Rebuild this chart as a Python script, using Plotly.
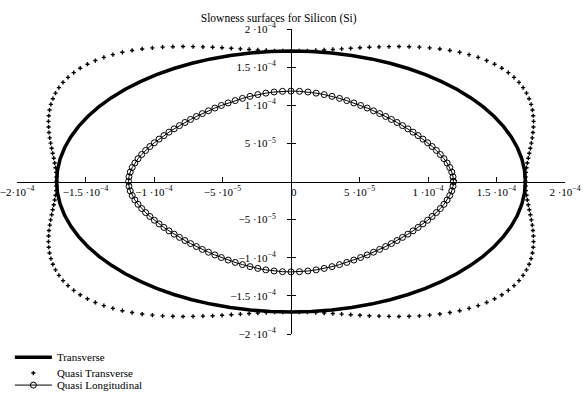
import plotly.graph_objects as go

# Slowness values in units of 1e-4 s/m
# Transverse (solid line)
t_x = [1.7109, 1.7044, 1.6849, 1.6526, 1.6077, 1.5506, 1.4817, 1.4015, 1.3106, 1.2098, 1.0997, 0.9813, 0.8555, 0.7231, 0.5852, 0.4428, 0.2971, 0.1491,
       0, -0.1491, -0.2971, -0.4428, -0.5852, -0.7231, -0.8555, -0.9813, -1.0997, -1.2098, -1.3106, -1.4015, -1.4817, -1.5506, -1.6077, -1.6526, -1.6849, -1.7044,
       -1.7109, -1.7044, -1.6849, -1.6526, -1.6077, -1.5506, -1.4817, -1.4015, -1.3106, -1.2098, -1.0997, -0.9813, -0.8555, -0.7231, -0.5852, -0.4428, -0.2971, -0.1491,
       0, 0.1491, 0.2971, 0.4428, 0.5852, 0.7231, 0.8555, 0.9813, 1.0997, 1.2098, 1.3106, 1.4015, 1.4817, 1.5506, 1.6077, 1.6526, 1.6849, 1.7044,
       1.7109]
t_y = [0, 0.1491, 0.2971, 0.4428, 0.5852, 0.7231, 0.8555, 0.9813, 1.0997, 1.2098, 1.3106, 1.4015, 1.4817, 1.5506, 1.6077, 1.6526, 1.6849, 1.7044,
       1.7109, 1.7044, 1.6849, 1.6526, 1.6077, 1.5506, 1.4817, 1.4015, 1.3106, 1.2098, 1.0997, 0.9813, 0.8555, 0.7231, 0.5852, 0.4428, 0.2971, 0.1491,
       0, -0.1491, -0.2971, -0.4428, -0.5852, -0.7231, -0.8555, -0.9813, -1.0997, -1.2098, -1.3106, -1.4015, -1.4817, -1.5506, -1.6077, -1.6526, -1.6849, -1.7044,
       -1.7109, -1.7044, -1.6849, -1.6526, -1.6077, -1.5506, -1.4817, -1.4015, -1.3106, -1.2098, -1.0997, -0.9813, -0.8555, -0.7231, -0.5852, -0.4428, -0.2971, -0.1491,
       0]

# Quasi Transverse (dots)
qt_x = [1.7109, 1.7119, 1.7146, 1.7191, 1.7250, 1.7319, 1.7394, 1.7471, 1.7545, 1.7611, 1.7662, 1.7695, 1.7704, 1.7681, 1.7625, 1.7527, 1.7383, 1.7189, 1.6943, 1.6640, 1.6279, 1.5861, 1.5386,
        1.4858, 1.4281, 1.3660, 1.3000, 1.2309, 1.1594, 1.0862, 1.0119, 0.9371, 0.8624, 0.7882, 0.7149, 0.6429, 0.5722, 0.5031, 0.4356, 0.3697, 0.3054, 0.2424, 0.1807, 0.1199, 0.0598,
        0, -0.0598, -0.1199, -0.1807, -0.2424, -0.3054, -0.3697, -0.4356, -0.5031, -0.5722, -0.6429, -0.7149, -0.7882, -0.8624, -0.9371, -1.0119, -1.0862, -1.1594, -1.2309, -1.3000, -1.3660, -1.4281, -1.4858,
        -1.5386, -1.5861, -1.6279, -1.6640, -1.6943, -1.7189, -1.7383, -1.7527, -1.7625, -1.7681, -1.7704, -1.7695, -1.7662, -1.7611, -1.7545, -1.7471, -1.7394, -1.7319, -1.7250, -1.7191, -1.7146, -1.7119,
        -1.7109, -1.7119, -1.7146, -1.7191, -1.7250, -1.7319, -1.7394, -1.7471, -1.7545, -1.7611, -1.7662, -1.7695, -1.7704, -1.7681, -1.7625, -1.7527, -1.7383, -1.7189, -1.6943, -1.6640, -1.6279, -1.5861, -1.5386,
        -1.4858, -1.4281, -1.3660, -1.3000, -1.2309, -1.1594, -1.0862, -1.0119, -0.9371, -0.8624, -0.7882, -0.7149, -0.6429, -0.5722, -0.5031, -0.4356, -0.3697, -0.3054, -0.2424, -0.1807, -0.1199, -0.0598,
        0, 0.0598, 0.1199, 0.1807, 0.2424, 0.3054, 0.3697, 0.4356, 0.5031, 0.5722, 0.6429, 0.7149, 0.7882, 0.8624, 0.9371, 1.0119, 1.0862, 1.1594, 1.2309, 1.3000, 1.3660, 1.4281, 1.4858,
        1.5386, 1.5861, 1.6279, 1.6640, 1.6943, 1.7189, 1.7383, 1.7527, 1.7625, 1.7681, 1.7704, 1.7695, 1.7662, 1.7611, 1.7545, 1.7471, 1.7394, 1.7319, 1.7250, 1.7191, 1.7146, 1.7119]
qt_y = [0, 0.0598, 0.1199, 0.1807, 0.2424, 0.3054, 0.3697, 0.4356, 0.5031, 0.5722, 0.6429, 0.7149, 0.7882, 0.8624, 0.9371, 1.0119, 1.0862, 1.1594, 1.2309, 1.3000, 1.3660, 1.4281, 1.4858,
        1.5386, 1.5861, 1.6279, 1.6640, 1.6943, 1.7189, 1.7383, 1.7527, 1.7625, 1.7681, 1.7704, 1.7695, 1.7662, 1.7611, 1.7545, 1.7471, 1.7394, 1.7319, 1.7250, 1.7191, 1.7146, 1.7119,
        1.7109, 1.7119, 1.7146, 1.7191, 1.7250, 1.7319, 1.7394, 1.7471, 1.7545, 1.7611, 1.7662, 1.7695, 1.7704, 1.7681, 1.7625, 1.7527, 1.7383, 1.7189, 1.6943, 1.6640, 1.6279, 1.5861, 1.5386,
        1.4858, 1.4281, 1.3660, 1.3000, 1.2309, 1.1594, 1.0862, 1.0119, 0.9371, 0.8624, 0.7882, 0.7149, 0.6429, 0.5722, 0.5031, 0.4356, 0.3697, 0.3054, 0.2424, 0.1807, 0.1199, 0.0598,
        0, -0.0598, -0.1199, -0.1807, -0.2424, -0.3054, -0.3697, -0.4356, -0.5031, -0.5722, -0.6429, -0.7149, -0.7882, -0.8624, -0.9371, -1.0119, -1.0862, -1.1594, -1.2309, -1.3000, -1.3660, -1.4281, -1.4858,
        -1.5386, -1.5861, -1.6279, -1.6640, -1.6943, -1.7189, -1.7383, -1.7527, -1.7625, -1.7681, -1.7704, -1.7695, -1.7662, -1.7611, -1.7545, -1.7471, -1.7394, -1.7319, -1.7250, -1.7191, -1.7146, -1.7119,
        -1.7109, -1.7119, -1.7146, -1.7191, -1.7250, -1.7319, -1.7394, -1.7471, -1.7545, -1.7611, -1.7662, -1.7695, -1.7704, -1.7681, -1.7625, -1.7527, -1.7383, -1.7189, -1.6943, -1.6640, -1.6279, -1.5861, -1.5386,
        -1.4858, -1.4281, -1.3660, -1.3000, -1.2309, -1.1594, -1.0862, -1.0119, -0.9371, -0.8624, -0.7882, -0.7149, -0.6429, -0.5722, -0.5031, -0.4356, -0.3697, -0.3054, -0.2424, -0.1807, -0.1199, -0.0598]

# Quasi Longitudinal (circles)
ql_x = [1.1858, 1.1827, 1.1736, 1.1590, 1.1397, 1.1165, 1.0901, 1.0612, 1.0301, 0.9973, 0.9631, 0.9275, 0.8908, 0.8530, 0.8141,
        0.7741, 0.7330, 0.6907, 0.6472, 0.6023, 0.5560, 0.5082, 0.4586, 0.4073, 0.3542, 0.2992, 0.2423, 0.1836, 0.1233, 0.0620,
        0, -0.0620, -0.1233, -0.1836, -0.2423, -0.2992, -0.3542, -0.4073, -0.4586, -0.5082, -0.5560, -0.6023, -0.6472, -0.6907, -0.7330,
        -0.7741, -0.8141, -0.8530, -0.8908, -0.9275, -0.9631, -0.9973, -1.0301, -1.0612, -1.0901, -1.1165, -1.1397, -1.1590, -1.1736, -1.1827,
        -1.1858, -1.1827, -1.1736, -1.1590, -1.1397, -1.1165, -1.0901, -1.0612, -1.0301, -0.9973, -0.9631, -0.9275, -0.8908, -0.8530, -0.8141,
        -0.7741, -0.7330, -0.6907, -0.6472, -0.6023, -0.5560, -0.5082, -0.4586, -0.4073, -0.3542, -0.2992, -0.2423, -0.1836, -0.1233, -0.0620,
        0, 0.0620, 0.1233, 0.1836, 0.2423, 0.2992, 0.3542, 0.4073, 0.4586, 0.5082, 0.5560, 0.6023, 0.6472, 0.6907, 0.7330,
        0.7741, 0.8141, 0.8530, 0.8908, 0.9275, 0.9631, 0.9973, 1.0301, 1.0612, 1.0901, 1.1165, 1.1397, 1.1590, 1.1736, 1.1827,
        1.1858]
ql_y = [0, 0.0620, 0.1233, 0.1836, 0.2423, 0.2992, 0.3542, 0.4073, 0.4586, 0.5082, 0.5560, 0.6023, 0.6472, 0.6907, 0.7330,
        0.7741, 0.8141, 0.8530, 0.8908, 0.9275, 0.9631, 0.9973, 1.0301, 1.0612, 1.0901, 1.1165, 1.1397, 1.1590, 1.1736, 1.1827,
        1.1858, 1.1827, 1.1736, 1.1590, 1.1397, 1.1165, 1.0901, 1.0612, 1.0301, 0.9973, 0.9631, 0.9275, 0.8908, 0.8530, 0.8141,
        0.7741, 0.7330, 0.6907, 0.6472, 0.6023, 0.5560, 0.5082, 0.4586, 0.4073, 0.3542, 0.2992, 0.2423, 0.1836, 0.1233, 0.0620,
        0, -0.0620, -0.1233, -0.1836, -0.2423, -0.2992, -0.3542, -0.4073, -0.4586, -0.5082, -0.5560, -0.6023, -0.6472, -0.6907, -0.7330,
        -0.7741, -0.8141, -0.8530, -0.8908, -0.9275, -0.9631, -0.9973, -1.0301, -1.0612, -1.0901, -1.1165, -1.1397, -1.1590, -1.1736, -1.1827,
        -1.1858, -1.1827, -1.1736, -1.1590, -1.1397, -1.1165, -1.0901, -1.0612, -1.0301, -0.9973, -0.9631, -0.9275, -0.8908, -0.8530, -0.8141,
        -0.7741, -0.7330, -0.6907, -0.6472, -0.6023, -0.5560, -0.5082, -0.4586, -0.4073, -0.3542, -0.2992, -0.2423, -0.1836, -0.1233, -0.0620,
        0]

# Tick values (units of 1e-4) and labels
x_tickvals = [-2, -1.5, -1, -0.5, 0, 0.5, 1, 1.5, 2]
x_ticktext = ["−2·10<sup>−4</sup>", "−1.5 ·10<sup>−4</sup>", "−1 ·10<sup>−4</sup>", "−5 ·10<sup>−5</sup>",
              "\u00a0\u00a00", "5 ·10<sup>−5</sup>", "1 ·10<sup>−4</sup>", "1.5 ·10<sup>−4</sup>", "2 ·10<sup>−4</sup>"]
y_tickvals = [-2, -1.5, -1, -0.5, 0.5, 1, 1.5, 2]
y_ticktext = ["−2 ·10<sup>−4</sup>", "−1.5 ·10<sup>−4</sup>", "−1 ·10<sup>−4</sup>", "−5 ·10<sup>−5</sup>",
              "5 ·10<sup>−5</sup>", "1 ·10<sup>−4</sup>", "1.5 ·10<sup>−4</sup>", "2 ·10<sup>−4</sup>"]

FONT = "Liberation Serif"

fig = go.Figure()
fig.add_trace(go.Scatter(x=t_x, y=t_y, mode="lines", name="Transverse",
                         line=dict(color="black", width=3.5), legend="legend"))
fig.add_trace(go.Scatter(x=qt_x, y=qt_y, mode="markers", name="Quasi Transverse",
                         marker=dict(symbol="cross", size=3.5, color="black", line=dict(width=0)),
                         legend="legend2"))
fig.add_trace(go.Scatter(x=ql_x, y=ql_y, mode="lines+markers", name="Quasi Longitudinal",
                         line=dict(color="black", width=1),
                         marker=dict(symbol="circle-open", size=6, color="black", line=dict(width=1)),
                         legend="legend3"))
# empty trace carrying the right-hand half of the y ticks
fig.add_trace(go.Scatter(x=[None], y=[None], yaxis="y2", showlegend=False, hoverinfo="skip"))

axis_common = dict(range=[-2, 2], showgrid=False, zeroline=False, anchor="free", position=0.5,
                   automargin=False, ticklabeloverflow="allow", tickcolor="black",
                   tickfont=dict(family=FONT, size=11, color="black"))

legend_common = dict(font=dict(family=FONT, size=11, color="black"), bgcolor="rgba(0,0,0,0)",
                     borderwidth=0, xanchor="left", yanchor="middle", itemwidth=37, x=-0.013)

fig.update_layout(
    width=583, height=393,
    margin=dict(l=17, r=18, t=29, b=59, autoexpand=False),
    paper_bgcolor="white", plot_bgcolor="white",
    title=dict(text="Slowness surfaces for Silicon (Si)", font=dict(family=FONT, size=11.5, color="black"),
               x=0.4776, xref="paper", xanchor="center", y=0.955, yref="container", yanchor="middle"),
    xaxis=dict(**axis_common, tickvals=x_tickvals, ticktext=x_ticktext, showline=True,
               linecolor="black", linewidth=1, ticks="inside", ticklen=5, ticklabelstandoff=0),
    yaxis=dict(**axis_common, tickvals=y_tickvals, ticktext=y_ticktext, showline=True,
               linecolor="black", linewidth=1, ticks="outside", ticklen=4, ticklabelstandoff=9),
    yaxis2=dict(range=[-2, 2], overlaying="y", anchor="free", position=0.5, showgrid=False, zeroline=False,
                showline=False, ticks="inside", ticklen=4, tickcolor="black", tickvals=y_tickvals,
                showticklabels=False, automargin=False),
    showlegend=True,
    legend=dict(**legend_common, y=-0.076),
    legend2=dict(**legend_common, y=-0.128),
    legend3=dict(**legend_common, y=-0.1675),
)

fig.write_html("out.html")
